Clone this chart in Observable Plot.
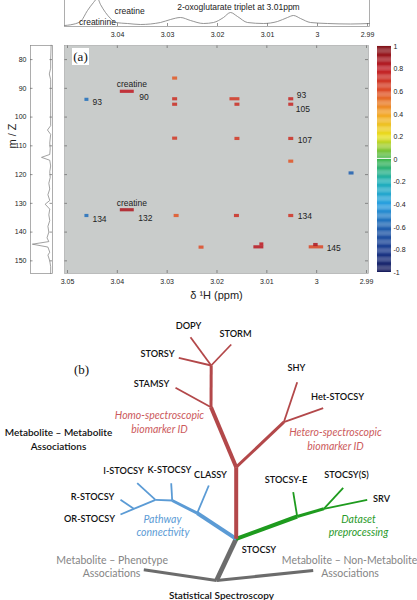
<!DOCTYPE html>
<html><head><meta charset="utf-8">
<script src="https://cdn.jsdelivr.net/npm/d3@7"></script>
<script src="https://cdn.jsdelivr.net/npm/@observablehq/plot@0.6"></script>
<style>
body{margin:0;background:#fff;}
#wrap{position:relative;width:417px;height:600px;overflow:hidden;font-family:"Liberation Sans",Arial,sans-serif;}
.panel{position:absolute;}
.panel svg{display:block;overflow:visible;max-width:none;}
#alabel{position:absolute;left:72px;top:48px;width:17px;height:17px;background:#fff;font-family:"Liberation Serif","Times New Roman",serif;font-size:13px;line-height:17px;text-align:center;color:#111;}
</style></head><body>
<div id="wrap">
  <div class="panel" id="main" style="left:0;top:0;width:417px"></div>
  <div class="panel" id="spec" style="left:0;top:-14px;width:417px"></div>
  <div class="panel" id="proj" style="left:0;top:0;width:60px"></div>
  <div class="panel" id="cbar" style="left:370px;top:0;width:47px"></div>
  <div class="panel" id="tree" style="left:0;top:318px;width:417px"></div>
  <div id="alabel">(a)</div>
</div>
<script>
// ---------- data: panel (a) ----------
const xTicks = [3.05, 3.04, 3.03, 3.02, 3.01, 3, 2.99];
const topTicks = [3.04, 3.03, 3.02, 3.01, 3, 2.99];
const yTicks = [80, 90, 100, 110, 120, 130, 140, 150];
const cbTicks = [1, 0.8, 0.6, 0.4, 0.2, 0, -0.2, -0.4, -0.6, -0.8, -1];
const cbStops = [-1, -0.8, -0.6, -0.4, -0.2, 0, 0.2, 0.4, 0.6, 0.8, 1];
const cbColors = ["#181c5c", "#1e3d8f", "#2262b0", "#2aa0e0", "#20b0b8", "#3db54a", "#e8e020", "#f3a628", "#de4f2a", "#bf1e27", "#80141a"];

const cellX1 = [3.0465, 3.0394, 3.0289, 3.0289, 3.0289, 3.0289, 3.0174, 3.0164, 3.0164, 3.0056, 3.0056, 3.0056, 3.0056, 2.9935, 3.0465, 3.0394, 3.0286, 3.0165, 3.0056, 3.0236, 3.0126, 3.0114, 3.0015, 3.0006];
const cellX2 = [3.0457, 3.0366, 3.0279, 3.0279, 3.0279, 3.0279, 3.0154, 3.0154, 3.0154, 3.0046, 3.0046, 3.0046, 3.0046, 2.9925, 3.0457, 3.0366, 3.0276, 3.0155, 3.0046, 3.0226, 3.0106, 3.0106, 2.9986, 2.9997];
const cellMz = [94.0, 91.2, 86.6, 93.8, 95.7, 107.5, 93.8, 95.7, 107.6, 93.8, 95.7, 107.6, 115.5, 119.6, 134.4, 132.4, 134.4, 134.4, 134.4, 145.4, 145.3, 144.3, 145.3, 144.5];
const cellR = [-0.55, 0.8, 0.57, 0.72, 0.72, 0.68, 0.68, 0.72, 0.68, 0.75, 0.75, 0.72, 0.58, -0.6, -0.55, 0.85, 0.58, 0.72, 0.7, 0.6, 0.82, 0.8, 0.62, 0.85];

const numLabel = ["93", "90", "93", "105", "107", "134", "132", "134", "145"];
const numPpm = [3.045, 3.0356, 3.004, 3.0042, 3.0038, 3.045, 3.0358, 3.0038, 2.998];
const numMz = [94.9, 93.1, 92.5, 97.4, 108.2, 135.5, 135.1, 134.6, 145.6];
const creLabel = ["creatine", "creatine"];
const crePpm = [3.0371, 3.0371];
const creMz = [88.5, 129.9];

const specPpm = [3.0506, 3.0494, 3.0474, 3.046, 3.0448, 3.044, 3.0434, 3.0424, 3.0414, 3.0404, 3.038, 3.0354, 3.0314, 3.0294, 3.0274, 3.0254, 3.0228, 3.0208, 3.0188, 3.0174, 3.016, 3.014, 3.0108, 3.008, 3.006, 3.0048, 3.0034, 3.0014, 2.998, 2.9934, 2.9896];
const specInt = [1, 1.7, 5, 16, 24, 28, 22, 14, 8, 4, 3, 2, 4, 7, 9, 6, 3, 4, 9, 14, 10, 4, 3, 5, 9, 11, 8, 4, 3, 2.5, 3];
const specLabel = ["creatinine", "creatine", "2-oxoglutarate triplet at 3.01ppm"];
const specLabelPpm = [3.044, 3.0376, 3.0158];
const specLabelInt = [4, 15, 19];

const projMz = [75, 80, 83, 85, 87, 90, 95, 100, 103, 104.5, 106, 109, 111, 113, 114, 115, 117, 119, 121, 123, 125, 127, 129, 130.3, 132, 134, 136, 138, 140, 142, 143.3, 144.2, 145.2, 147, 148, 150, 152, 154.4];
const projInt = [1.5, 2, 2, 3.5, 2, 2, 2, 2, 2, 5.5, 2, 3, 2.5, 3, 12, 3, 2, 3, 2.5, 4, 3, 5, 3, 8, 3, 4, 3, 5, 4, 6, 4, 22, 5, 3, 5, 3, 2, 2];

// ---------- data: panel (b) ----------
const segX1 = [235.7, 235.7, 210.5, 210.5, 210.7, 210.7, 210.7, 235.7, 283.3, 283.3, 235.7, 196.7, 171.7, 196.7, 171.7, 155, 155, 133.3, 133.3, 235.7, 296.7, 323.3, 296.7, 323.3, 235.7, 216, 216];
const segY1 = [538.3, 466.7, 406.7, 406.7, 365, 365, 365, 466.7, 421.7, 421.7, 538.3, 512.7, 500, 512.7, 500, 499.3, 499.3, 508.3, 508.3, 538.3, 516, 508.3, 516, 508.3, 538.3, 580, 580];
const segX2 = [235.7, 210.5, 210.7, 175, 178.3, 190, 230.7, 283.3, 296.7, 322.7, 196.7, 171.7, 155, 208.3, 170.7, 136.7, 133.3, 120, 120, 296.7, 323.3, 366.7, 292.7, 342.7, 216, 143.3, 312.7];
const segY2 = [466.7, 406.7, 365, 387.3, 357.3, 336.7, 344, 421.7, 381.7, 407.7, 512.7, 500, 499.3, 485, 482.7, 482.7, 508.3, 514, 499.3, 516, 508.3, 499.3, 491.7, 487.3, 580, 569.3, 570];
const segGroup = ["bio","bio","bio","bio","bio","bio","bio","bio","bio","bio","path","path","path","path","path","path","path","path","path","data","data","data","data","data","stat","stat","stat"];
const segRank = ["trunk","trunk","main","twig","twig","twig","twig","main","twig","twig","trunk","main","twig","twig","twig","twig","twig","twig","twig","trunk","main","twig","twig","twig","trunk","main","main"];

const nameText = ["DOPY", "STORM", "STORSY", "STAMSY", "SHY", "Het-STOCSY", "Metabolite – Metabolite", "Associations", "I-STOCSY", "K-STOCSY", "CLASSY", "R-STOCSY", "OR-STOCSY", "STOCSY-E", "STOCSY(S)", "SRV", "STOCSY", "Statistical Spectroscopy"];
const nameX = [188, 235, 157, 151, 296, 337, 58, 58, 123, 169, 210, 92, 89, 285.5, 346, 381, 258.5, 221];
const nameY = [326, 334, 353.3, 383.3, 367.3, 396.7, 432.3, 446, 470.7, 469.3, 475, 496.7, 519, 480, 475, 498.3, 549.3, 595];
const groupText = ["Homo-spectroscopic", "biomarker ID", "Hetero-spectroscopic", "biomarker ID", "Pathway", "connectivity", "Dataset", "preprocessing"];
const groupX = [159, 159, 335, 335, 162, 162.5, 358, 358];
const groupY = [415, 428.7, 431.7, 445.7, 519, 531.7, 519, 531.7];
const groupOf = ["bio", "bio", "bio", "bio", "path", "path", "data", "data"];
const assocText = ["Metabolite – Phenotype", "Associations", "Metabolite – Non-Metabolite", "Associations"];
const assocX = [111.7, 111, 349, 349.5];
const assocY = [560, 572.7, 560, 572.7];

// ---------- build ----------
const FONT = '"Liberation Sans", Arial, sans-serif';
const baseStyle = {background: "transparent", fontFamily: FONT, fontSize: "7px", color: "#222", overflow: "visible", maxWidth: "none"};
const fmt = d => String(d);
const colorOpts = {type: "linear", domain: cbStops, range: cbColors, clamp: true};
const XDOM = [3.0506, 2.9896];
const YDOM = [75.1, 154.4];

const cells = cellX1.map((x1, i) => ({x1, x2: cellX2[i], mz: cellMz[i], r: cellR[i]}));
const nums = numLabel.map((t, i) => ({t, x: numPpm[i], y: numMz[i]}));
const cres = creLabel.map((t, i) => ({t, x: crePpm[i], y: creMz[i]}));

const mainH = 310, mT = 45, mB = 37, mL = 64, mR = 49;
const innerH = mainH - mT - mB, innerW = 417 - mL - mR;
const main = Plot.plot({
  width: 417, height: mainH, marginLeft: mL, marginRight: mR, marginTop: mT, marginBottom: mB,
  style: baseStyle,
  x: {domain: XDOM, axis: null},
  y: {domain: YDOM, reverse: true, axis: null},
  color: colorOpts,
  marks: [
    Plot.frame({fill: "#c9cccb", stroke: "none"}),
    Plot.tickX(xTicks, {x: d => d, insetTop: innerH - 3, stroke: "#666", strokeWidth: 0.7}),
    Plot.tickX(xTicks, {x: d => d, insetBottom: innerH - 3, stroke: "#666", strokeWidth: 0.7}),
    Plot.tickY(yTicks, {y: d => d, insetRight: innerW - 3, stroke: "#666", strokeWidth: 0.7}),
    Plot.tickY(yTicks, {y: d => d, insetLeft: innerW - 3, stroke: "#666", strokeWidth: 0.7}),
    Plot.rect(cells, {x1: "x1", x2: "x2", y1: d => d.mz - 0.55, y2: d => d.mz + 0.55, fill: "r", fillOpacity: 0.88}),
    Plot.text(nums, {x: "x", y: "y", text: "t", textAnchor: "start", fontSize: 8.5, fill: "#222"}),
    Plot.text(cres, {x: "x", y: "y", text: "t", fontSize: 8.5, fill: "#222"}),
    Plot.frame({stroke: "#a0a0a0", strokeWidth: 0.6}),
    Plot.axisX({ticks: xTicks, anchor: "bottom", tickSize: 0, tickPadding: 6, tickFormat: fmt, fill: "#222", label: null}),
    Plot.text(["δ ¹H (ppm)"], {frameAnchor: "bottom", dy: 25, fontSize: 11, fill: "#222"})
  ]
});
document.getElementById("main").appendChild(main);

const spec = specPpm.map((x, i) => ({x, v: specInt[i]}));
const specL = specLabel.map((t, i) => ({t, x: specLabelPpm[i], v: specLabelInt[i]}));
const specPlot = Plot.plot({
  width: 417, height: 60, marginLeft: 64, marginRight: 48, marginTop: 0, marginBottom: 20,
  style: baseStyle,
  x: {domain: XDOM, axis: null},
  y: {domain: [0, 40], axis: null},
  marks: [
    Plot.frame({fill: "white", stroke: "#8a8a8a", strokeWidth: 0.7}),
    Plot.line(spec, {x: "x", y: "v", curve: "monotone-x", stroke: "#7a7a7a", strokeWidth: 0.8}),
    Plot.tickX(topTicks, {x: d => d, insetTop: 37, stroke: "#666", strokeWidth: 0.7}),
    Plot.text(specL, {x: "x", y: "v", text: "t", fontSize: 8.5, fill: "#222"}),
    Plot.axisX({ticks: topTicks, anchor: "bottom", tickSize: 0, tickPadding: 6, tickFormat: fmt, fill: "#222", label: null})
  ]
});
document.getElementById("spec").appendChild(specPlot);

const proj = projMz.map((y, i) => ({y, v: projInt[i]}));
const projW = 22;
const projPlot = Plot.plot({
  width: 60, height: mainH, marginLeft: 30, marginRight: 8, marginTop: mT, marginBottom: mB,
  style: baseStyle,
  x: {domain: [24, 0], axis: null},
  y: {domain: YDOM, reverse: true, axis: null},
  marks: [
    Plot.frame({fill: "white", stroke: "#8a8a8a", strokeWidth: 0.7}),
    Plot.line(proj, {x: "v", y: "y", stroke: "#7a7a7a", strokeWidth: 0.7}),
    Plot.tickY(yTicks, {y: d => d, insetRight: projW - 2.5, stroke: "#666", strokeWidth: 0.7}),
    Plot.tickY(yTicks, {y: d => d, insetLeft: projW - 2.5, stroke: "#666", strokeWidth: 0.7}),
    Plot.axisY({ticks: yTicks, anchor: "left", tickSize: 0, tickPadding: 4, tickFormat: fmt, fill: "#222", label: null}),
    Plot.text(["m / Z"], {frameAnchor: "left", dx: -18, dy: -11, rotate: -90, fontSize: 11, fill: "#222"})
  ]
});
document.getElementById("proj").appendChild(projPlot);

const cbSteps = d3.range(-1, 1, 0.01);
const cbPlot = Plot.plot({
  width: 47, height: mainH, marginLeft: 7, marginRight: 26, marginTop: 46, marginBottom: 38,
  style: baseStyle,
  y: {domain: [-1, 1], axis: null},
  color: colorOpts,
  marks: [
    Plot.rect(cbSteps, {y1: d => d, y2: d => d + 0.0105, fill: d => d + 0.005}),
    Plot.ruleY([0.01], {stroke: "white", strokeWidth: 1}),
    Plot.axisY({ticks: cbTicks, anchor: "right", tickSize: 0, tickPadding: 2, tickFormat: fmt, fill: "#222", label: null})
  ]
});
document.getElementById("cbar").appendChild(cbPlot);

// ---------- panel (b) tree ----------
const segs = segX1.map((x1, i) => ({x1, y1: segY1[i], x2: segX2[i], y2: segY2[i], g: segGroup[i], r: segRank[i]}));
const lineColor = {bio: "#b3484a", path: "#5b9bd5", data: "#1e9b1e", stat: "#6c6c6c"};
const textColor = {bio: "#cc5a5c", path: "#5b9bd5", data: "#2a9a2a"};
const rankWidth = {trunk: 4, main: 3, twig: 1.8};
const names = nameText.map((t, i) => ({t, x: nameX[i], y: nameY[i]}));
const groups = groupText.map((t, i) => ({t, x: groupX[i], y: groupY[i], g: groupOf[i]}));
const assoc = assocText.map((t, i) => ({t, x: assocX[i], y: assocY[i]}));
const TF = 'Lato, "Open Sans", sans-serif';
const isPhrase = d => /[a-z]{3}/.test(d.t);

const treeMarks = [];
for (const g of ["stat", "path", "data", "bio"]) {
  treeMarks.push(Plot.link(segs.filter(d => d.g === g), {
    x1: "x1", y1: "y1", x2: "x2", y2: "y2",
    stroke: lineColor[g], strokeWidth: d => rankWidth[d.r] + (g === "stat" && d.r === "trunk" ? 0.8 : 0), strokeLinecap: "butt"
  }));
}
for (const g of ["bio", "path", "data"]) {
  treeMarks.push(Plot.text(groups.filter(d => d.g === g), {x: "x", y: "y", text: "t", fill: textColor[g], fontStyle: "italic", fontSize: 10.5, fontFamily: TF}));
}
treeMarks.push(Plot.text(names.filter(isPhrase), {x: "x", y: "y", text: "t", fill: "#111", fontWeight: 600, fontSize: 10, fontFamily: TF}));
treeMarks.push(Plot.text(names.filter(d => !isPhrase(d)), {x: "x", y: "y", text: "t", fill: "#111", fontWeight: 600, fontSize: 9.2, fontFamily: TF}));
treeMarks.push(Plot.text(assoc, {x: "x", y: "y", text: "t", fill: "#858585", fontSize: 10.5, fontFamily: TF}));
treeMarks.push(Plot.text(["(b)"], {x: [81], y: [369.3], text: d => d, fontSize: 13, fill: "#111", fontFamily: '"Liberation Serif", "Times New Roman", serif'}));

const treePlot = Plot.plot({
  width: 417, height: 282, marginLeft: 0, marginRight: 0, marginTop: 0, marginBottom: 0,
  style: baseStyle,
  x: {domain: [0, 417], axis: null},
  y: {domain: [318, 600], reverse: true, axis: null},
  marks: treeMarks
});
document.getElementById("tree").appendChild(treePlot);
</script>
</body></html>
